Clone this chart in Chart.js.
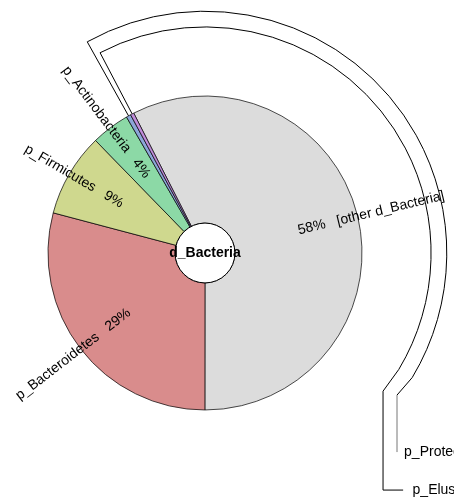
<!DOCTYPE html>
<html>
<head>
<meta charset="utf-8">
<script src="https://cdn.jsdelivr.net/npm/chart.js@4/dist/chart.umd.min.js"></script>
<style>
  html, body { margin: 0; padding: 0; background: #fff; }
  canvas { display: block; }
</style>
</head>
<body>
<canvas id="c" width="454" height="503"></canvas>
<script>
// Taxonomy sunburst for d_Bacteria: one ring of phyla around the root hub.
const rootName = 'd_Bacteria';
const categories = ['[other d_Bacteria]', 'p_Bacteroidetes', 'p_Firmicutes', 'p_Actinobacteria', 'p_Proteobacteria', 'p_Elusimicrobia'];
const values = [57.5, 29.1, 8.6, 3.95, 0.47, 0.36];
const colors = ['#dcdcdc', '#d98c8c', '#cfd88e', '#8cd9a6', '#8ca6d9', '#bf8cd9'];
// wedges too thin for an inline label get a key with a leader line
const keyedWedges = [4, 5];

const FONT = '"Liberation Sans", Arial, Helvetica, sans-serif';

// leader-line layout for the keyed wedges, in units of the ring's outer radius
const keyLayout = {
  4: { ring: 1.54, dropX: 1.223, dropY: 0.905, keyY: 1.268, endX: 1.223, textX: 1.268, color: '#777' },
  5: { ring: 1.44, dropX: 1.134, dropY: 0.880, keyY: 1.51, endX: 1.262, textX: 1.322, color: '#000' }
};
const keyTurnDeg = 121; // where the leader arcs stop, clockwise from 12 o'clock

const sunburstLabels = {
  id: 'sunburstLabels',
  afterDatasetsDraw(chart) {
    const ctx = chart.ctx;
    const arcs = chart.getDatasetMeta(0).data;
    const cx = arcs[0].x, cy = arcs[0].y;
    const R = arcs[0].outerRadius, hubR = arcs[0].innerRadius;
    const total = values.reduce((a, b) => a + b, 0);
    ctx.save();

    // root hub
    ctx.beginPath();
    ctx.arc(cx, cy, hubR, 0, Math.PI * 2);
    ctx.fillStyle = '#fff';
    ctx.fill();
    ctx.lineWidth = 1;
    ctx.strokeStyle = '#000';
    ctx.stroke();
    ctx.fillStyle = '#000';
    ctx.font = 'bold 14px ' + FONT;
    ctx.textAlign = 'center';
    ctx.textBaseline = 'middle';
    ctx.fillText(rootName, cx, cy);

    // radial wedge labels
    ctx.font = '14px ' + FONT;
    const labelR = R * 0.61;
    categories.forEach((name, i) => {
      if (keyedWedges.includes(i)) return;
      const a = arcs[i];
      const mid = (a.startAngle + a.endAngle) / 2;
      const pct = Math.round(values[i] / total * 100) + '%';
      ctx.save();
      ctx.translate(cx, cy);
      if (Math.cos(mid) >= 0) {
        ctx.rotate(mid);
        ctx.textAlign = 'left';
        ctx.fillText(pct + '   ' + name, labelR, 0);
      } else {
        ctx.rotate(mid + Math.PI);
        ctx.textAlign = 'right';
        ctx.fillText(name + '   ' + pct, -labelR, 0);
      }
      ctx.restore();
    });

    // keys for the thin wedges
    const turn = (keyTurnDeg - 90) * Math.PI / 180;
    keyedWedges.forEach(i => {
      const k = keyLayout[i];
      const a = arcs[i];
      const mid = (a.startAngle + a.endAngle) / 2;
      const ringR = R * k.ring;
      ctx.beginPath();
      ctx.moveTo(cx + R * Math.cos(mid), cy + R * Math.sin(mid));
      ctx.lineTo(cx + ringR * Math.cos(mid), cy + ringR * Math.sin(mid));
      ctx.arc(cx, cy, ringR, mid, turn, false);
      ctx.lineTo(cx + R * k.dropX, cy + R * k.dropY);
      ctx.strokeStyle = '#000';
      ctx.lineWidth = 1;
      ctx.stroke();
      ctx.beginPath();
      ctx.moveTo(cx + R * k.dropX, cy + R * k.dropY);
      ctx.lineTo(cx + R * k.dropX, cy + R * k.keyY);
      ctx.lineTo(cx + R * k.endX, cy + R * k.keyY);
      ctx.strokeStyle = k.color;
      ctx.stroke();
      ctx.fillStyle = '#000';
      ctx.textAlign = 'left';
      ctx.textBaseline = 'middle';
      ctx.fillText(categories[i], cx + R * k.textX, cy + R * k.keyY);
    });
    ctx.restore();
  }
};

new Chart(document.getElementById('c'), {
  type: 'doughnut',
  data: {
    labels: categories,
    datasets: [{
      data: values,
      backgroundColor: colors,
      borderColor: '#000',
      borderWidth: 0.7,
      borderAlign: 'center',
      hoverOffset: 0,
      offset: 0
    }]
  },
  options: {
    responsive: false,
    animation: false,
    events: [],
    rotation: -27.0,
    radius: 157,
    cutout: 39,
    layout: { padding: { left: 0, right: 44, top: 3, bottom: 0 } },
    plugins: {
      legend: { display: false },
      tooltip: { enabled: false }
    }
  },
  plugins: [sunburstLabels]
});
</script>
</body>
</html>
